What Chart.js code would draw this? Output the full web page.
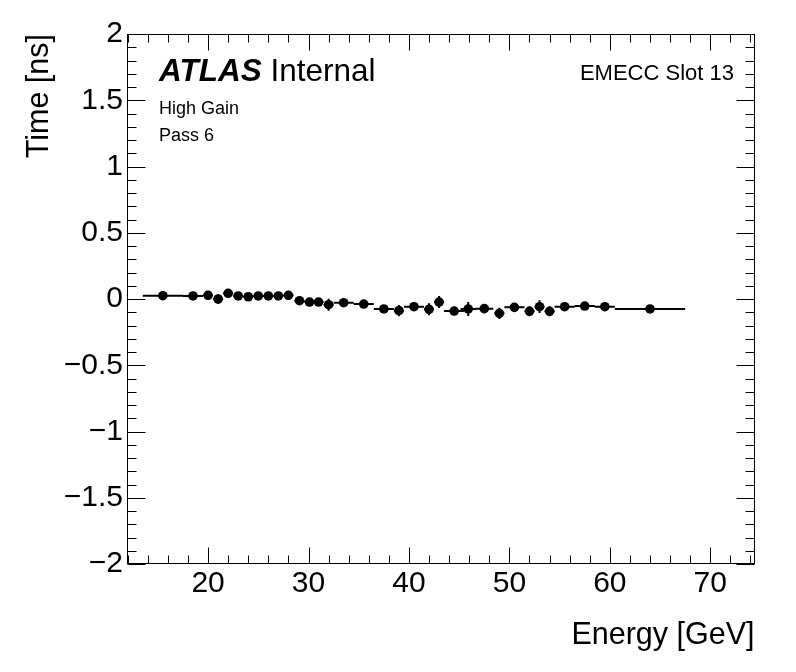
<!DOCTYPE html>
<html>
<head>
<meta charset="utf-8">
<script src="https://cdn.jsdelivr.net/npm/chart.js@4/dist/chart.umd.min.js"></script>
<style>
  html, body { margin: 0; padding: 0; background: #fff; }
  #wrap { position: relative; width: 796px; height: 672px; }
  canvas { display: block; }
</style>
</head>
<body>
<div id="wrap"><canvas id="c" width="796" height="672"></canvas></div>
<script>
// ---- data ----
const energy = [15.5, 18.5, 20, 21, 22, 23, 24, 25, 26, 27, 28, 29.1, 30.1, 31, 32, 33.5, 35.5, 37.5, 39, 40.5, 42, 43, 44.5, 45.9, 47.5, 49, 50.5, 52, 53, 54, 55.5, 57.5, 59.5, 64];
const timeNs = [0.025, 0.023, 0.028, 0.0, 0.043, 0.023, 0.017, 0.023, 0.023, 0.023, 0.028, -0.013, -0.023, -0.023, -0.043, -0.028, -0.038, -0.075, -0.088, -0.058, -0.078, -0.023, -0.091, -0.075, -0.073, -0.108, -0.063, -0.093, -0.058, -0.093, -0.058, -0.053, -0.058, -0.075];
const energyErr = [2, 1, 0.5, 0.5, 0.5, 0.5, 0.5, 0.5, 0.5, 0.5, 0.5, 0.5, 0.5, 0.5, 0.5, 1, 1, 1, 0.5, 1, 0.5, 0.5, 1, 0.75, 0.9, 0.5, 1, 0.5, 0.5, 0.5, 1, 1, 1, 3.5];
const timeErr = [0.025, 0.025, 0.025, 0.035, 0.03, 0.025, 0.025, 0.025, 0.025, 0.025, 0.025, 0.025, 0.025, 0.025, 0.045, 0.025, 0.025, 0.03, 0.042, 0.03, 0.045, 0.045, 0.03, 0.053, 0.03, 0.042, 0.03, 0.038, 0.048, 0.038, 0.025, 0.025, 0.025, 0.025];
const xTicks = [20, 30, 40, 50, 60, 70];
const yTicks = [-2, -1.5, -1, -0.5, 0, 0.5, 1, 1.5, 2];
const xRange = [11.93, 74.4];
const yRange = [-2, 2];

const FONT = "'Liberation Sans', Arial, Helvetica, sans-serif";

function fmtY(v) {
  const s = String(Math.abs(v));
  return v < 0 ? '\u2212' + s : s;
}

const errorBars = {
  id: 'errorBars',
  beforeDatasetsDraw(chart) {
    const {ctx, scales: {x, y}} = chart;
    ctx.save();
    ctx.strokeStyle = '#000';
    ctx.lineWidth = 2;
    ctx.beginPath();
    for (let i = 0; i < energy.length; i++) {
      const px = x.getPixelForValue(energy[i]);
      const py = y.getPixelForValue(timeNs[i]);
      ctx.moveTo(x.getPixelForValue(energy[i] - energyErr[i]), py);
      ctx.lineTo(x.getPixelForValue(energy[i] + energyErr[i]), py);
      ctx.moveTo(px, y.getPixelForValue(timeNs[i] - timeErr[i]));
      ctx.lineTo(px, y.getPixelForValue(timeNs[i] + timeErr[i]));
    }
    ctx.stroke();
    ctx.restore();
  }
};

const frameTicks = {
  id: 'frameTicks',
  afterDraw(chart) {
    const {ctx, chartArea: a, scales: {x, y}} = chart;
    ctx.save();
    ctx.strokeStyle = '#000';
    ctx.lineWidth = 1;
    const L = Math.round(a.left) + 0.5, R = Math.round(a.right) - 0.5;
    const T = Math.round(a.top) + 0.5, B = Math.round(a.bottom) - 0.5;
    ctx.strokeRect(L, T, R - L, B - T);
    ctx.beginPath();
    // x ticks (major every 10, minor every 2)
    for (let v = 12; v <= xRange[1] + 1e-9; v += 2) {
      if (v < xRange[0]) continue;
      const major = xTicks.includes(Math.round(v));
      const len = major ? 16 : 8;
      const px = Math.round(x.getPixelForValue(v)) + 0.5;
      ctx.moveTo(px, B); ctx.lineTo(px, B - len);
      ctx.moveTo(px, T); ctx.lineTo(px, T + len);
    }
    // y ticks (major every 0.5, minor every 0.1)
    for (let k = -20; k <= 20; k++) {
      const v = k / 10;
      const major = k % 5 === 0;
      const len = major ? 18 : 9;
      const py = Math.round(y.getPixelForValue(v)) + 0.5;
      ctx.moveTo(L, py); ctx.lineTo(L + len, py);
      ctx.moveTo(R, py); ctx.lineTo(R - len, py);
    }
    ctx.stroke();

    // annotations
    ctx.fillStyle = '#000';
    ctx.textBaseline = 'alphabetic';
    ctx.textAlign = 'left';
    ctx.font = "italic bold 31.5px " + FONT;
    ctx.fillText('ATLAS', 159, 81);
    const w = ctx.measureText('ATLAS ').width;
    ctx.font = "31.5px " + FONT;
    ctx.fillText('Internal', 159 + w, 81);
    ctx.font = "18px " + FONT;
    ctx.fillText('High Gain', 159, 114);
    ctx.fillText('Pass 6', 159, 141);
    ctx.textAlign = 'right';
    ctx.font = "22px " + FONT;
    ctx.fillText('EMECC Slot 13', 734, 80);
    ctx.restore();
  }
};

new Chart(document.getElementById('c'), {
  type: 'scatter',
  data: {
    datasets: [{
      data: energy.map((e, i) => ({x: e, y: timeNs[i]})),
      backgroundColor: '#000',
      borderColor: '#000',
      borderWidth: 0,
      pointRadius: 4.8,
      pointHoverRadius: 4.8,
      pointStyle: 'circle'
    }]
  },
  options: {
    responsive: false,
    animation: false,
    events: [],
    layout: { padding: { left: 0, top: 34, right: 41.5, bottom: 0 } },
    plugins: { legend: { display: false }, tooltip: { enabled: false } },
    scales: {
      x: {
        type: 'linear',
        min: xRange[0], max: xRange[1],
        grid: { display: false, drawTicks: false },
        border: { display: false },
        afterBuildTicks: s => { s.ticks = xTicks.map(v => ({value: v})); },
        afterFit: s => { s.height = 108; },
        ticks: { color: '#000', font: { family: FONT, size: 30 }, padding: 2, maxRotation: 0, autoSkip: false },
        title: { display: true, text: 'Energy [GeV]', align: 'end', color: '#000', font: { family: FONT, size: 30.5 }, padding: { bottom: 18 } }
      },
      y: {
        type: 'linear',
        min: yRange[0], max: yRange[1],
        grid: { display: false, drawTicks: false },
        border: { display: false },
        afterBuildTicks: s => { s.ticks = yTicks.map(v => ({value: v})); },
        afterFit: s => { s.width = 127; },
        ticks: { color: '#000', font: { family: FONT, size: 30 }, padding: 4, autoSkip: false, callback: v => fmtY(v) },
        title: { display: true, text: 'Time [ns]', align: 'end', color: '#000', font: { family: FONT, size: 30.5 }, padding: { top: 21 } }
      }
    }
  },
  plugins: [errorBars, frameTicks]
});
</script>
</body>
</html>
